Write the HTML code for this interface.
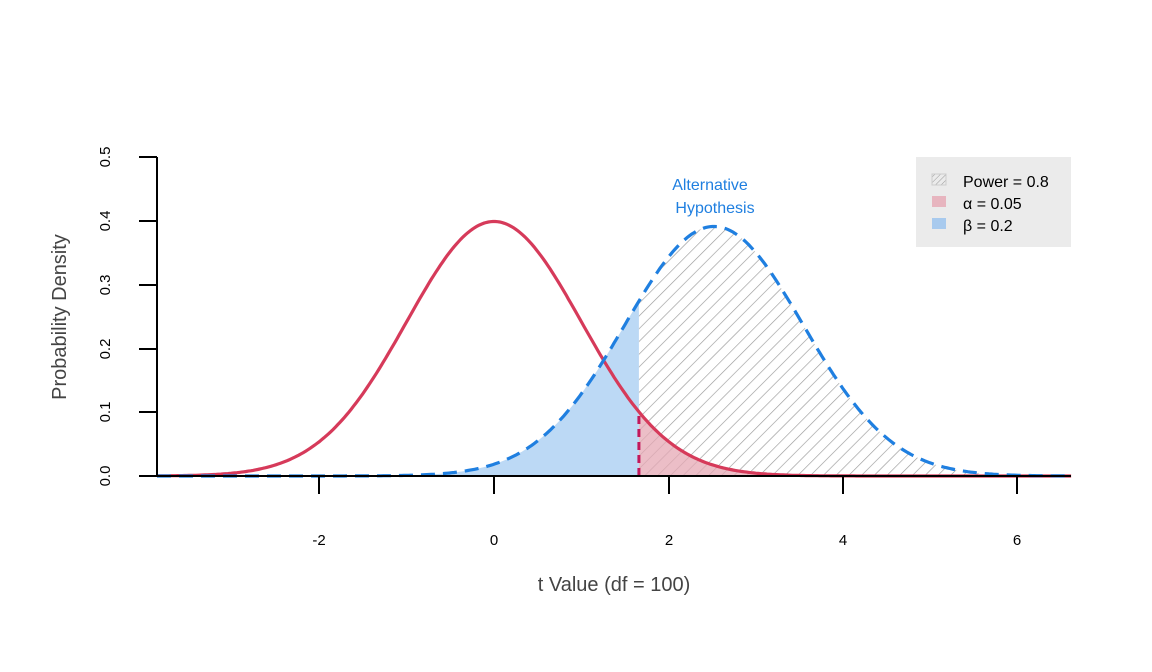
<!DOCTYPE html>
<html><head><meta charset="utf-8"><style>
html,body{margin:0;padding:0;background:#fff}
svg{display:block;font-family:"Liberation Sans",Arial,sans-serif}
</style></head><body>
<svg id="s" width="1152" height="672" viewBox="0 0 1152 672" xmlns="http://www.w3.org/2000/svg">
<defs>
<pattern id="hatch" patternUnits="userSpaceOnUse" width="9" height="9" patternTransform="rotate(45)">
<line x1="0" y1="0" x2="0" y2="9" stroke="#9a9a9a" stroke-width="1.3"/>
</pattern>
<pattern id="hatch2" patternUnits="userSpaceOnUse" width="4" height="4" patternTransform="rotate(45)">
<line x1="0" y1="0" x2="0" y2="4" stroke="#999" stroke-width="1"/>
</pattern>
</defs>
<g id="areas"></g>
<g id="lines"></g>
<line x1="139" y1="476" x2="1071" y2="476" stroke="#000" stroke-width="2"/>
<line x1="157" y1="157" x2="157" y2="476" stroke="#000" stroke-width="2"/>
<g stroke="#000" stroke-width="2">
<line x1="319" y1="476" x2="319" y2="494"/><line x1="494" y1="476" x2="494" y2="494"/>
<line x1="669" y1="476" x2="669" y2="494"/><line x1="843" y1="476" x2="843" y2="494"/>
<line x1="1017" y1="476" x2="1017" y2="494"/>
<line x1="139" y1="412" x2="157" y2="412"/>
<line x1="139" y1="349" x2="157" y2="349"/><line x1="139" y1="285" x2="157" y2="285"/>
<line x1="139" y1="221" x2="157" y2="221"/><line x1="139" y1="157" x2="157" y2="157"/>
</g>
<g font-size="15" text-anchor="middle" fill="#000">
<text x="319" y="545">-2</text><text x="494" y="545">0</text><text x="669" y="545">2</text>
<text x="843" y="545">4</text><text x="1017" y="545">6</text>
</g>
<g font-size="15" text-anchor="middle" fill="#000">
<text transform="translate(110,476) rotate(-90)">0.0</text>
<text transform="translate(110,412) rotate(-90)">0.1</text>
<text transform="translate(110,349) rotate(-90)">0.2</text>
<text transform="translate(110,285) rotate(-90)">0.3</text>
<text transform="translate(110,221) rotate(-90)">0.4</text>
<text transform="translate(110,157) rotate(-90)">0.5</text>
</g>
<text x="614" y="591" font-size="20" text-anchor="middle" fill="#444">t Value (df = 100)</text>
<text transform="translate(66,317) rotate(-90)" font-size="20" text-anchor="middle" fill="#444">Probability Density</text>
<text x="710" y="190" font-size="16" text-anchor="middle" fill="#1f7fe0">Alternative</text>
<text x="715" y="213" font-size="16" text-anchor="middle" fill="#1f7fe0">Hypothesis</text>
<rect x="916" y="157" width="155" height="90" fill="#ebebeb"/>
<rect x="932" y="174" width="14" height="11" fill="url(#hatch2)" stroke="#ccc"/>
<rect x="932" y="196" width="14" height="11" fill="#e6a8b4" opacity="0.8"/>
<rect x="932" y="218" width="14" height="11" fill="#9cc4ee" opacity="0.85"/>
<g font-size="16" fill="#000">
<text x="963" y="187">Power = 0.8</text>
<text x="963" y="209">α = 0.05</text>
<text x="963" y="231">β = 0.2</text>
</g>
</svg>
<script>
const X=t=>494+t*87.3, Y=d=>476-d*638;
const n=(x,m,s)=>Math.exp(-0.5*((x-m)/s)**2)/(s*Math.sqrt(2*Math.PI));
const f0=x=>n(x,0,1), f1=x=>n(x,2.52,1.02);
const a=-3.86,b=6.61,c=1.66;
function path(f,lo,hi){let p='';for(let i=0;i<=400;i++){const x=lo+(hi-lo)*i/400;p+=(i?'L':'M')+X(x).toFixed(1)+','+Y(f(x)).toFixed(1);}return p;}
function area(f,lo,hi){return path(f,lo,hi)+'L'+X(hi)+','+Y(0)+'L'+X(lo)+','+Y(0)+'Z';}
const ns='http://www.w3.org/2000/svg';
function add(g,d,attrs){const e=document.createElementNS(ns,'path');e.setAttribute('d',d);for(const k in attrs)e.setAttribute(k,attrs[k]);document.getElementById(g).appendChild(e);}
add('areas',area(f1,a,c),{fill:'#bcd9f5'});
add('areas',area(f1,c,b),{fill:'url(#hatch)'});
add('areas',area(f0,c,b),{fill:'#e6a8b4',opacity:'0.75'});
add('lines',path(f0,a,b),{fill:'none',stroke:'#d63a5a','stroke-width':'3.2'});
add('lines',path(f1,a,b),{fill:'none',stroke:'#1f7fe0','stroke-width':'3.2','stroke-dasharray':'14,8'});
add('lines','M'+X(c)+','+Y(0)+'L'+X(c)+','+Y(f0(c)),{stroke:'#c2185b','stroke-width':'3','stroke-dasharray':'8,5'});
</script>
</body></html>
